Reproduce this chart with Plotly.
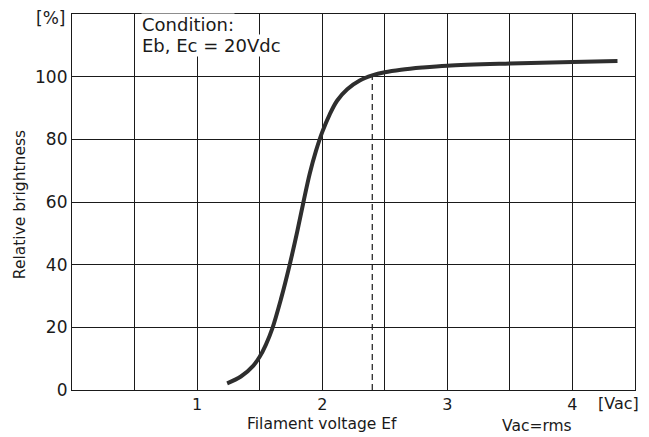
import plotly.graph_objects as go

# Curve data (Filament voltage Ef [Vac] vs relative brightness [%])
ef_volts = [1.24, 1.35, 1.45, 1.5, 1.55, 1.6, 1.67, 1.74, 1.8, 1.85, 1.9, 1.95, 2.0,
            2.06, 2.12, 2.2, 2.3, 2.4, 2.5, 2.63, 2.8, 3.0, 3.5, 4.0, 4.36]
brightness = [2.1, 4.3, 7.8, 10.6, 14.5, 19.5, 29.0, 40.0, 50.5, 60.0, 69.0, 76.3, 82.3,
              88.0, 92.4, 96.0, 98.8, 100.4, 101.4, 102.2, 102.9, 103.5, 104.2, 104.7, 105.0]

# Reference (dashed) marker line
ref_x = [2.4, 2.4]
ref_y = [0, 100.4]

x_tickvals = [0.5, 1, 1.5, 2, 2.5, 3, 3.5, 4, 4.5]
x_ticktext = ["", "1", "", "2", "", "3", "", "4", ""]
y_tickvals = [0, 20, 40, 60, 80, 100, 120]
y_ticktext = ["0", "20", "40", "60", "80", "100", ""]

FONT = "DejaVu Sans, Liberation Sans, Arial, sans-serif"
INK = "#1a1a1a"

fig = go.Figure()
fig.add_trace(go.Scatter(x=ref_x, y=ref_y, mode="lines",
                         line=dict(color=INK, width=1.2, dash="6px,4px"),
                         showlegend=False, hoverinfo="skip"))
fig.add_trace(go.Scatter(x=ef_volts, y=brightness, mode="lines",
                         line=dict(color="#2e2e2e", width=4, shape="spline", smoothing=1.0),
                         showlegend=False))

# page body has an 8px margin; compensate so the plot area lands where the reference has it
fig.update_layout(
    width=649, height=437,
    margin=dict(l=64, r=22, t=6, b=55, autoexpand=False),
    paper_bgcolor="white", plot_bgcolor="white",
    font=dict(family=FONT, size=16, color=INK),
    xaxis=dict(range=[0, 4.5], tickvals=x_tickvals, ticktext=x_ticktext,
               showgrid=True, gridcolor=INK, gridwidth=1,
               showline=True, linecolor=INK, linewidth=1.2, mirror=True,
               zeroline=False, ticks="", ticklen=0, automargin=False,
               tickfont=dict(size=16)),
    yaxis=dict(range=[0, 120], tickvals=y_tickvals, ticktext=y_ticktext,
               showgrid=True, gridcolor=INK, gridwidth=1,
               showline=True, linecolor=INK, linewidth=1.2, mirror=True,
               zeroline=False, ticks="", ticklen=0, automargin=False,
               tickfont=dict(size=17)),
    annotations=[
        dict(x=0, y=120, xref="paper", yref="y", xshift=-5, yshift=-4,
             xanchor="right", yanchor="middle",
             text="[%]", showarrow=False, font=dict(size=17, color=INK)),
        dict(x=0.55, y=116.5, xref="x", yref="y", xanchor="left", yanchor="middle",
             text="Condition:", showarrow=False, align="left",
             font=dict(size=18, color=INK), bgcolor="white", borderpad=0),
        dict(x=0.55, y=109.8, xref="x", yref="y", xanchor="left", yanchor="middle",
             text="Eb, Ec = 20Vdc", showarrow=False, align="left",
             font=dict(size=18, color=INK), bgcolor="white", borderpad=0),
        dict(x=0, y=59, xref="paper", yref="y", xshift=-52, xanchor="center", yanchor="middle",
             text="Relative brightness", textangle=-90, showarrow=False,
             font=dict(size=15.5, color=INK)),
        dict(x=2.0, y=-0.061, xref="x", yref="paper", xanchor="center", yanchor="top",
             text="Filament voltage Ef", showarrow=False, font=dict(size=15.5, color=INK)),
        dict(x=3.72, y=-0.067, xref="x", yref="paper", xanchor="center", yanchor="top",
             text="Vac=rms", showarrow=False, font=dict(size=15.5, color=INK)),
        dict(x=4.37, y=-0.005, xref="x", yref="paper", xanchor="center", yanchor="top",
             text="[Vac]", showarrow=False, font=dict(size=16, color=INK)),
    ],
)

fig.write_html("out.html")
